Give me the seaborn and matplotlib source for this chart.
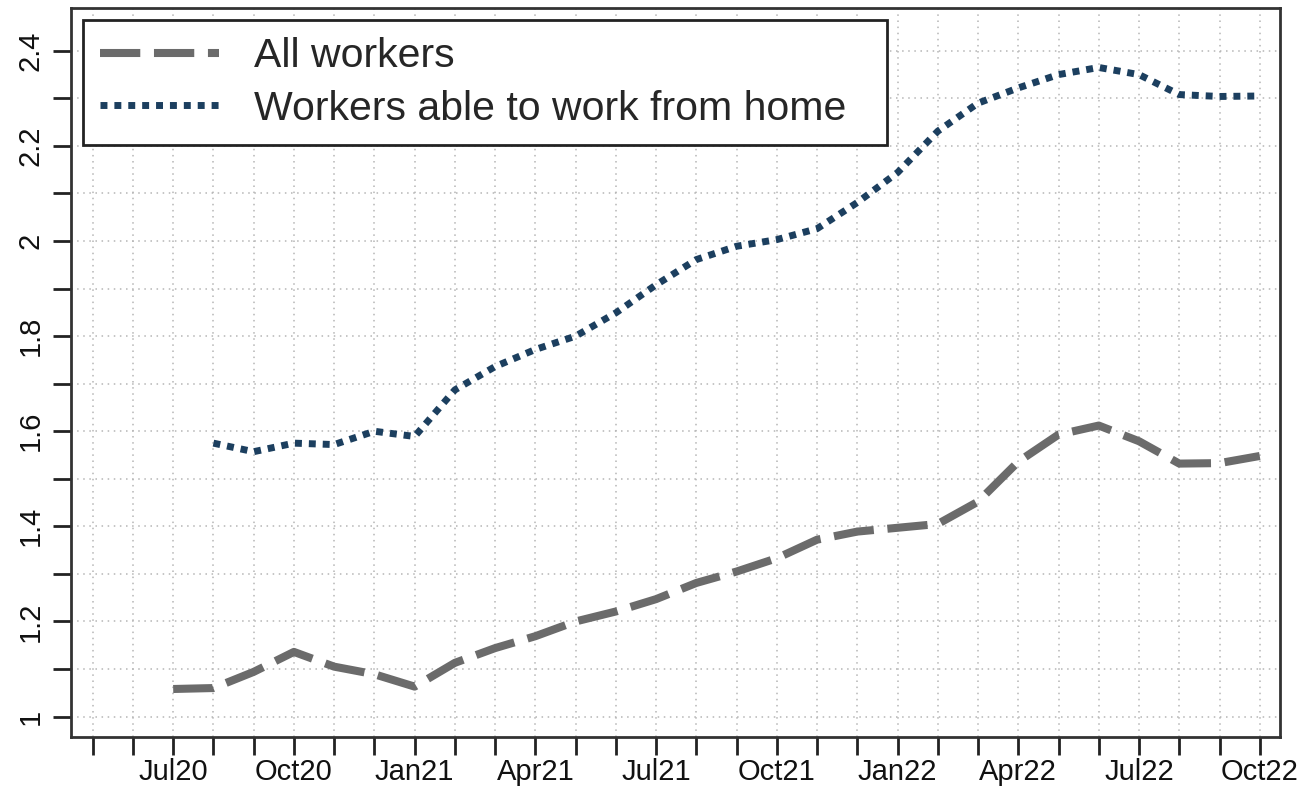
import pandas as pd
import seaborn as sns
import matplotlib.pyplot as plt

## Line chart: ratio over time, all workers vs. workers able to work from home

# month axis, May20 .. Oct22
months = ["May20", "Jun20", "Jul20", "Aug20", "Sep20", "Oct20", "Nov20", "Dec20",
          "Jan21", "Feb21", "Mar21", "Apr21", "May21", "Jun21", "Jul21", "Aug21",
          "Sep21", "Oct21", "Nov21", "Dec21", "Jan22", "Feb22", "Mar22", "Apr22",
          "May22", "Jun22", "Jul22", "Aug22", "Sep22", "Oct22"]
labelled_months = ["Jul20", "Oct20", "Jan21", "Apr21", "Jul21", "Oct21",
                   "Jan22", "Apr22", "Jul22", "Oct22"]

# All workers: Jul20 .. Oct22
all_start = "Jul20"
all_workers = [1.058, 1.060, 1.094, 1.136, 1.105, 1.089, 1.063, 1.113, 1.144, 1.169,
               1.200, 1.221, 1.247, 1.281, 1.305, 1.333, 1.372, 1.389, 1.397, 1.405,
               1.452, 1.536, 1.593, 1.612, 1.579, 1.532, 1.533, 1.548]

# Workers able to work from home: Aug20 .. Oct22
wfh_start = "Aug20"
wfh_workers = [1.575, 1.557, 1.575, 1.572, 1.600, 1.589, 1.687, 1.736, 1.772, 1.800,
               1.849, 1.908, 1.961, 1.989, 2.003, 2.026, 2.081, 2.144, 2.231, 2.290,
               2.322, 2.350, 2.365, 2.350, 2.308, 2.304, 2.305]

i0 = months.index(all_start)
df_all = pd.DataFrame({"t": range(i0, i0 + len(all_workers)), "v": all_workers})
i1 = months.index(wfh_start)
df_wfh = pd.DataFrame({"t": range(i1, i1 + len(wfh_workers)), "v": wfh_workers})

sns.set_style("white")
plt.rcParams["font.family"] = ["Liberation Sans", "DejaVu Sans"]

fig, ax = plt.subplots(figsize=(13.02, 7.87), dpi=100)
fig.subplots_adjust(left=0.0545, right=0.983, bottom=0.0635, top=0.9898)

sns.lineplot(data=df_all, x="t", y="v", ax=ax, color="#6b6b6b", linewidth=5.8,
             linestyle=(0, (5, 1.7)), dash_capstyle="butt", label="All workers")
sns.lineplot(data=df_wfh, x="t", y="v", ax=ax, color="#1c3f5f", linewidth=5.0,
             linestyle=(0, (1, 1)), dash_capstyle="butt",
             label="Workers able to work from home")

ax.set_xlim(-0.54, len(months) - 0.5)
ax.set_ylim(0.957, 2.49)

ax.set_xticks(range(len(months)))
ax.set_xticklabels([m if m in labelled_months else "" for m in months])
yt = [1 + 0.1 * k for k in range(15)]
ax.set_yticks(yt)
ax.set_yticklabels([f"{v:g}" if k % 2 == 0 else "" for k, v in enumerate(yt)],
                   rotation=90, va="center")
ax.tick_params(axis="both", direction="out", length=13, width=2, color="#222222",
               labelsize=21, labelcolor="#111111")
ax.tick_params(axis="x", bottom=True, pad=2)
ax.tick_params(axis="y", left=True, pad=6)
ax.set_xlabel("")
ax.set_ylabel("")

ax.grid(True, color="#b5b5b5", linestyle=(0, (1, 3)), linewidth=1.1)
for s in ax.spines.values():
    s.set_color("#333333")
    s.set_linewidth(2)

leg = ax.legend(loc="upper left", bbox_to_anchor=(0.0099, 0.0, 0.665, 0.9835),
                mode="expand", borderaxespad=0, fontsize=29.5, frameon=True,
                fancybox=False, handlelength=2.9, handletextpad=0.85,
                labelspacing=0.35, borderpad=0.42)
leg.get_frame().set_edgecolor("#222222")
leg.get_frame().set_linewidth(2)
leg.get_frame().set_alpha(1)

fig.savefig("out.png", dpi=100)
